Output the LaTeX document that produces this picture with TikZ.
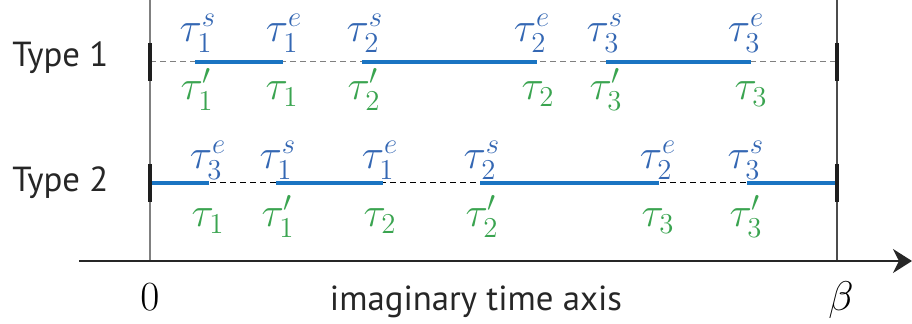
\documentclass[tikz,border=0pt]{standalone}
\usepackage{fontspec}
\setsansfont{PT Sans}
\usepackage{tikz}
\usetikzlibrary{positioning, arrows.meta}
\definecolor{segblue}{HTML}{1A74C2}
\definecolor{labblue}{HTML}{3467B3}
\definecolor{labgreen}{HTML}{3AA450}
\definecolor{bargray}{HTML}{1E1E1E}

\begin{document}
\begin{tikzpicture}[
  x=0.5pt, y=-0.5pt,
  mathlab/.style={font=\fontsize{22}{25}\selectfont, inner sep=0pt, anchor=base},
  toplab/.style={mathlab, text=labblue},
  botlab/.style={mathlab, text=labgreen},
  rowlab/.style={font=\sffamily\fontsize{17.4}{21}\selectfont, inner sep=0pt,
    anchor=base west, text=black!85},
  ticklab/.style={font=\fontsize{22}{25}\selectfont, inner sep=0pt, anchor=base},
  guide/.style={line width=0.7pt, gray},
  seg/.style={line width=2pt, segblue},
  endbar/.style={line width=2.2pt, bargray},
  gap1/.style={line width=0.5pt, gray, dash pattern=on 3pt off 2pt},
  gap2/.style={line width=0.5pt, black, dash pattern=on 3pt off 2pt},
  axis/.style={-{Stealth[length=9.5pt, width=12pt, inset=3pt]}, line width=0.8pt, black!85}
]
\useasboundingbox (0,0) rectangle (912,324);

% Axis and the two time boundaries
\coordinate (axl) at (79,261);
\coordinate (axr) at (912,261);
\coordinate (z0) at (150,0);
\coordinate (z1) at (150,262);
\coordinate (b0) at (837,0);
\coordinate (b1) at (837,261);
\draw[guide] (z0) -- (z1);
\draw[guide, black!70] (b0) -- (b1);
\draw[axis] (axl) -- (axr);

\node[ticklab] (zero) at (150,311) {$0$};
\node[ticklab] (beta) at (841,311) {$\beta$};
\node[rowlab, anchor=base] (axname) at (476,311) {imaginary time axis};

% Type 1 row
\node[rowlab] (type1) at (12,67) {Type 1};
\coordinate (a0) at (150,62);
\coordinate (a7) at (837,62);
\coordinate (a1) at (195,62);
\coordinate (a2) at (283,62);
\coordinate (a3) at (362,62);
\coordinate (a4) at (537,62);
\coordinate (a5) at (606,62);
\coordinate (a6) at (751,62);
\draw[gap1] (a0) -- (a7);
\draw[seg] (a1) -- (a2);
\draw[seg] (a3) -- (a4);
\draw[seg] (a5) -- (a6);
\draw[endbar] (a0) ++(0,-19) -- ++(0,38);
\draw[endbar] (a7) ++(0,-19) -- ++(0,38);

\node[toplab] (u1s) at (198,42) {$\tau_1^s$};
\node[toplab] (u1e) at (284,42) {$\tau_1^e$};
\node[toplab] (u2s) at (365,42) {$\tau_2^s$};
\node[toplab] (u2e) at (532,42) {$\tau_2^e$};
\node[toplab] (u3s) at (605,42) {$\tau_3^s$};
\node[toplab] (u3e) at (746,42) {$\tau_3^e$};
\node[botlab] (d1p) at (197,100) {$\tau_1'$};
\node[botlab] (d1)  at (282,100) {$\tau_1$};
\node[botlab] (d2p) at (364,100) {$\tau_2'$};
\node[botlab] (d2)  at (538,100) {$\tau_2$};
\node[botlab] (d3p) at (606,100) {$\tau_3'$};
\node[botlab] (d3)  at (751,100) {$\tau_3$};

% Type 2 row
\node[rowlab] (type2) at (12,192) {Type 2};
\coordinate (c0) at (150,183);
\coordinate (c9) at (837,183);
\coordinate (c1) at (209,183);
\coordinate (c2) at (276,183);
\coordinate (c3) at (383,183);
\coordinate (c4) at (480,183);
\coordinate (c5) at (659,183);
\coordinate (c6) at (747,183);
\draw[gap2] (c0) -- (c9);
\draw[seg] (c0) -- (c1);
\draw[seg] (c2) -- (c3);
\draw[seg] (c4) -- (c5);
\draw[seg] (c6) -- (c9);
\draw[endbar] (c0) ++(0,-19) -- ++(0,38);
\draw[endbar] (c9) ++(0,-19) -- ++(0,38);

\node[toplab] (v3e) at (208,169) {$\tau_3^e$};
\node[toplab] (v1s) at (278,169) {$\tau_1^s$};
\node[toplab] (v1e) at (380,169) {$\tau_1^e$};
\node[toplab] (v2s) at (482,169) {$\tau_2^s$};
\node[toplab] (v2e) at (658,169) {$\tau_2^e$};
\node[toplab] (v3s) at (746,169) {$\tau_3^s$};
\node[botlab] (w1)  at (208,227) {$\tau_1$};
\node[botlab] (w1p) at (278,227) {$\tau_1'$};
\node[botlab] (w2)  at (380,227) {$\tau_2$};
\node[botlab] (w2p) at (482,227) {$\tau_2'$};
\node[botlab] (w3)  at (658,227) {$\tau_3$};
\node[botlab] (w3p) at (746,227) {$\tau_3'$};

\end{tikzpicture}
\end{document}
